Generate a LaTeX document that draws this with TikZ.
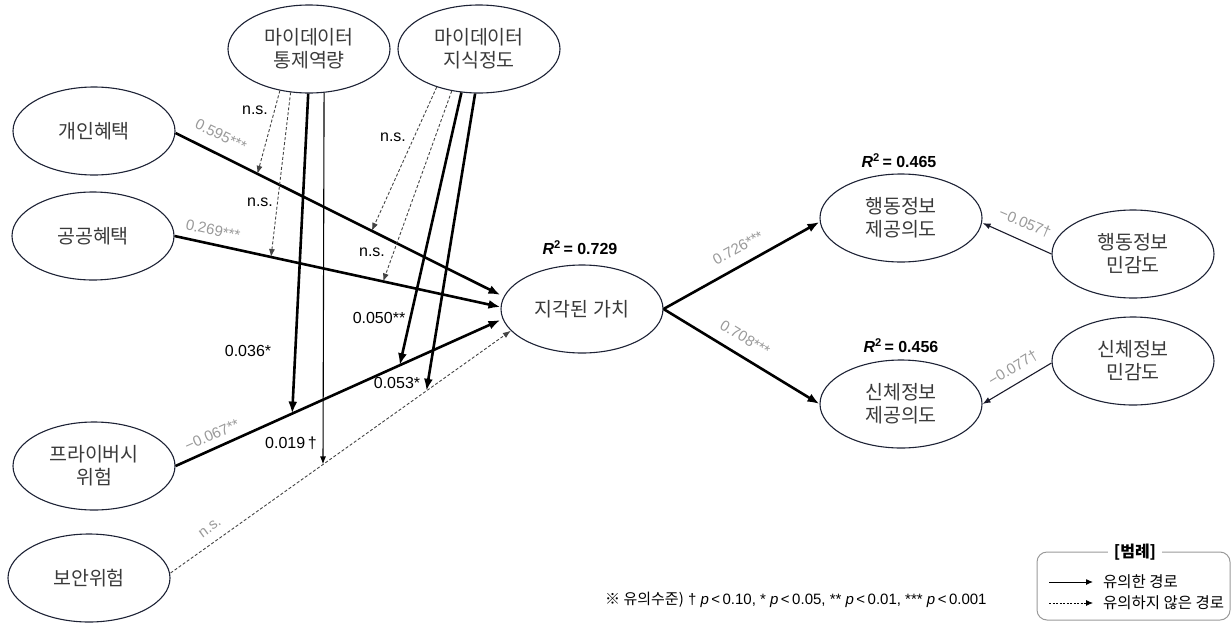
\documentclass[tikz,border=0pt]{standalone}
\usepackage{fontspec}
\setmainfont{Liberation Sans}
\newfontfamily\kr{Noto Sans CJK KR}
\usetikzlibrary{arrows.meta,shapes.geometric,calc}
\definecolor{ecol}{HTML}{1D2235}
\definecolor{tcol}{HTML}{3A3A3A}
\definecolor{gcol}{HTML}{999999}
\definecolor{dcol}{HTML}{444444}
\definecolor{acol}{HTML}{1A1A2A}
\tikzset{
  lat/.style={ellipse, draw=ecol, line width=1.1pt, minimum width=162pt, minimum height=88pt,
    inner sep=0pt, align=center, text=tcol, font=\kr\fontsize{19.5}{23}\selectfont},
  sig/.style={line width=2.6pt, draw=black, -{Latex[length=12pt,width=9pt]}},
  sigthin/.style={line width=1.1pt, draw=acol, -{Latex[length=8pt,width=6pt]}},
  nsline/.style={line width=0.9pt, draw=dcol, dash pattern=on 3pt off 2pt, -{Latex[length=8pt,width=6pt]}},
  coef/.style={text=gcol, font=\fontsize{15}{15}\selectfont, inner sep=0pt},
  blab/.style={text=black, font=\fontsize{16}{16}\selectfont, inner sep=0pt},
  rsq/.style={text=black, font=\bfseries\fontsize{16}{16}\selectfont, inner sep=0pt},
}
\begin{document}
\begin{tikzpicture}[x=1pt,y=-1pt]
\useasboundingbox (0,0) rectangle (1231,624);
% latent variables
\node[lat] (pb) at (94,131) {개인혜택};
\node[lat] (pub) at (93,236) {공공혜택};
\node[lat] (priv) at (94,466) {프라이버시\\위험};
\node[lat] (sec) at (89,578) {보안위험};
\node[lat] (ctrl) at (309,49) {마이데이터\\통제역량};
\node[lat] (know) at (479,49) {마이데이터\\지식정도};
\node[lat] (val) at (582,309) {지각된 가치};
\node[lat] (beh) at (901,218) {행동정보\\제공의도};
\node[lat] (body) at (901,404) {신체정보\\제공의도};
\node[lat] (bsens) at (1133,254) {행동정보\\민감도};
\node[lat] (psens) at (1133,361) {신체정보\\민감도};
% R squared
\node[rsq] (r1) at (580,248) {\textit{R}\textsuperscript{2}\,= 0.729};
\node[rsq] (r2) at (899,161) {\textit{R}\textsuperscript{2}\,= 0.465};
\node[rsq] (r3) at (901,346) {\textit{R}\textsuperscript{2}\,= 0.456};
% main path end points
\coordinate (e1a) at ([yshift=-2pt]pb.east);
\coordinate (e1b) at ([yshift=14pt]val.west);
\coordinate (e2a) at (pub.east);
\coordinate (e2b) at ([yshift=2pt]val.west);
\coordinate (e3a) at (priv.east);
\coordinate (e3b) at ([yshift=-11pt]val.west);
\coordinate (e4a) at ([yshift=5pt]sec.east);
\coordinate (e4b) at (val.197);
\draw[sig] (e1a) -- (e1b);
\draw[sig] (e2a) -- (e2b);
\draw[sig] (e3a) -- (e3b);
\draw[nsline] (e4a) -- (e4b);
% moderation targets
\coordinate (m1) at ($(e1a)!0.252!(e1b)$);
\coordinate (m2) at ($(e2a)!0.296!(e2b)$);
\coordinate (m3) at ($(e3a)!0.359!(e3b)$);
\coordinate (m4) at ($(e4a)!0.448!(e4b)$);
\coordinate (k1) at ($(e1a)!0.604!(e1b)$);
\coordinate (k2) at ($(e2a)!0.640!(e2b)$);
\coordinate (k3) at ($(e3a)!0.690!(e3b)$);
\coordinate (k4) at ($(e4a)!0.752!(e4b)$);
\draw[nsline] (ctrl.235) -- (m1);
\draw[nsline] (ctrl.247) -- (m2);
\draw[sig] (ctrl.269) -- (m3);
\draw[sigthin, draw=black] (ctrl.289) -- (m4);
\draw[nsline] (know.222) -- (k1);
\draw[nsline] (know.237) -- (k2);
\draw[sig] (know.248) -- (k3);
\draw[sig] (know.265) -- (k4);
% outcome paths
\draw[sig] (val.east) -- ([yshift=-4pt]beh.west);
\draw[sig] (val.east) -- (body.west);
\draw[sigthin] (bsens.west) -- ([yshift=-5pt]beh.east);
\draw[sigthin] ([yshift=-2pt]psens.west) -- (body.east);
% coefficient labels
\node[coef, rotate=-26] (c1) at (221,135) {0.595***};
\node[coef, rotate=-12] (c2) at (213,230) {0.269***};
\node[coef, rotate=24] (c3) at (212,435) {−0.067**};
\node[coef, rotate=36] (c4) at (210,528) {n.s.};
\node[coef, rotate=29] (c5) at (738,248) {0.726***};
\node[coef, rotate=-31] (c6) at (745,338) {0.708***};
\node[coef, rotate=-23] (c7) at (1025,223) {−0.057†};
\node[coef, rotate=31] (c8) at (1013,368) {−0.077†};
% moderation labels
\node[blab] (l1) at (255,110) {n.s.};
\node[blab] (l2) at (260,202) {n.s.};
\node[blab] (l3) at (248,351) {0.036*};
\node[blab] (l4) at (291,443) {0.019\,†};
\node[blab] (l5) at (393,137) {n.s.};
\node[blab] (l6) at (372,252) {n.s.};
\node[blab] (l7) at (379,318) {0.050**};
\node[blab] (l8) at (397,383) {0.053*};
% footnote
\node[anchor=west, inner sep=0pt, font=\fontsize{15}{15}\selectfont] (fn) at (605,600)
  {{\kr ※ 유의수준)} †\ \textit{p}\,<\,0.10, * \textit{p}\,<\,0.05, ** \textit{p}\,<\,0.01, *** \textit{p}\,<\,0.001};
% legend
\draw[gcol, line width=1pt, rounded corners=10pt] (1037,552) rectangle (1230,620);
\node[fill=white, inner xsep=6pt, inner ysep=1pt, font=\kr\bfseries\fontsize{16}{16}\selectfont] (lt) at (1135,552) {[범례]};
\coordinate (la1) at (1049,582);
\coordinate (lb1) at (1093,582);
\coordinate (la2) at (1049,603);
\coordinate (lb2) at (1093,603);
\draw[line width=1pt, -{Latex[length=7pt,width=6pt]}] (la1) -- (lb1);
\draw[line width=0.8pt, dash pattern=on 2pt off 1.5pt, -{Latex[length=7pt,width=6pt]}] (la2) -- (lb2);
\node[anchor=west, inner sep=0pt, font=\kr\fontsize{15.5}{15.5}\selectfont] (lx1) at (1103,582) {유의한 경로};
\node[anchor=west, inner sep=0pt, font=\kr\fontsize{15.5}{15.5}\selectfont] (lx2) at (1103,603) {유의하지 않은 경로};
\end{tikzpicture}
\end{document}
